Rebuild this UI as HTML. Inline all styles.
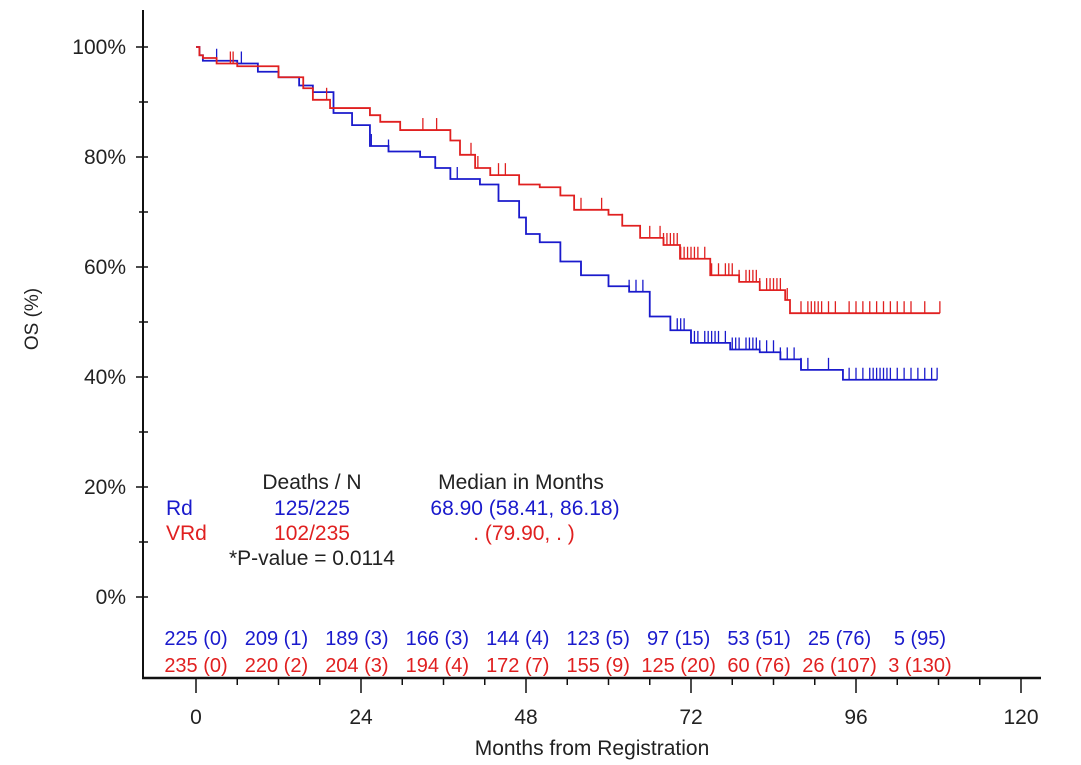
<!DOCTYPE html>
<html><head><meta charset="utf-8"><style>
body{margin:0;background:#fff;}
svg{display:block;font-family:"Liberation Sans",Arial,sans-serif;}
</style></head><body>
<svg id="chart" width="1081" height="765" viewBox="0 0 1081 765" xmlns="http://www.w3.org/2000/svg">
<g id="axes"></g>
<g id="curves"></g>
<text transform="translate(38,319) rotate(-90)" text-anchor="middle" font-size="19" fill="#222">OS (%)</text>
<text x="592" y="755" text-anchor="middle" font-size="21" fill="#222">Months from Registration</text>
<g font-size="21">
<text x="312" y="489" text-anchor="middle" fill="#222">Deaths / N</text>
<text x="521" y="489" text-anchor="middle" fill="#222">Median in Months</text>
<text x="166" y="515" fill="#1a1acc">Rd</text>
<text x="312" y="515" text-anchor="middle" fill="#1a1acc">125/225</text>
<text x="525" y="515" text-anchor="middle" fill="#1a1acc">68.90 (58.41, 86.18)</text>
<text x="166" y="540" fill="#e02020">VRd</text>
<text x="312" y="540" text-anchor="middle" fill="#e02020">102/235</text>
<text x="524" y="540" text-anchor="middle" fill="#e02020">.  (79.90,  .  )</text>
<text x="229" y="565" fill="#222">*P-value = 0.0114</text>
</g>
<g id="risk" font-size="20"></g>
</svg>
<script>
const xTicks=[0,24,48,72,96,120];
const yTicks=[0,20,40,60,80,100];
const rdSteps=[[0,100],[0.5,98.5],[1,97.5],[6,97],[9,95.5],[12,94.5],[15,93],[17,91.8],[20,88],[22.7,85.8],[25.3,82],[28,81],[32.6,80],[34.8,78],[37,76],[41.3,75],[44,72],[47,69],[48,66],[50,64.5],[53,61],[56,58.5],[60,56.5],[63,55.5],[66,51],[69,48.5],[72,46.2],[77.7,45],[82,44.5],[85,43.2],[88,41.3],[94.1,39.5]];
const rdEnd=107.8;
const vrdSteps=[[0,100],[0.5,98.5],[1,98],[3,97],[6,96.5],[12,94.5],[15.6,92.5],[17,90.4],[19.5,88.9],[25.3,87.6],[26.8,86.4],[29.7,84.9],[37,83],[38.4,80.4],[40.6,78],[42.8,76.7],[47,75],[50,74.5],[53,73],[55,70.4],[60,69.5],[62,67.5],[64.6,65.3],[68,64],[70.4,61.5],[74.8,58.5],[79,57.3],[82,55.8],[85.7,54],[86.4,51.6]];
const vrdEnd=108.2;
const rdCensor=[3,6.6,25.5,28,38,56,63,64,65,66,70,70.5,71,72,72.5,73,74,74.5,75,75.5,76,77,78,78.5,79,80,80.5,81,81.5,82,83,84,85,86,87,88,89,92,95,96,97,98,98.5,99,99.5,100,100.5,101,102,103,104,105,106,107,107.8];
const vrdCensor=[5,5.4,19,33,35,40,41,44,45,56,59,62,66,67.5,68,68.5,69,69.5,70,70.5,71,71.5,72,72.5,73,74,75,76,77,77.5,78,79,80,80.5,81,81.5,82,83,83.5,84,84.5,85,86,88,89,89.5,90,90.5,91,92,93,95,96,97,98,99,100,101,102,103,104,106,108.2];
const riskCols=[0,12,24,36,48,60,72,84,96,108];
const rdRisk=["225 (0)","209 (1)","189 (3)","166 (3)","144 (4)","123 (5)","97 (15)","53 (51)","25 (76)","5 (95)"];
const vrdRisk=["235 (0)","220 (2)","204 (3)","194 (4)","172 (7)","155 (9)","125 (20)","60 (76)","26 (107)","3 (130)"];
const NS="http://www.w3.org/2000/svg";
const X=m=>196+m*6.875, Y=p=>597-p*5.5;
function mk(tag,attrs,parent){const e=document.createElementNS(NS,tag);for(const k in attrs)e.setAttribute(k,attrs[k]);parent.appendChild(e);return e;}
const ax=document.getElementById('axes');
let e=mk('line',{x1:143,y1:10,x2:143,y2:679,stroke:'#111','stroke-width':2},ax);


e=mk('line',{x1:142,y1:678,x2:1041,y2:678,stroke:'#111','stroke-width':2.5},ax);


for(let p=0;p<=100;p+=10){
  const major=p%20===0;
  e=mk('line',{x1:major?136:139,y1:Y(p),x2:148,y2:Y(p),stroke:'#111','stroke-width':1.5},ax);
  
  
}
yTicks.forEach(p=>{
  e=mk('text',{x:126,y:Y(p)+7,'text-anchor':'end','font-size':21,fill:'#222'},ax);e.textContent=p+'%';
  
  
});
for(let m=0;m<=114;m+=6){
  const major=m%24===0;
  e=mk('line',{x1:X(m),y1:678,x2:X(m),y2:major?693:685,stroke:'#111','stroke-width':1.5},ax);
  
  
}
e=mk('line',{x1:X(120),y1:678,x2:X(120),y2:693,stroke:'#111','stroke-width':1.5},ax);


xTicks.forEach(m=>{
  e=mk('text',{x:X(m),y:724,'text-anchor':'middle','font-size':21,fill:'#222'},ax);e.textContent=m;
  
  
});
const cv=document.getElementById('curves');
function survAt(steps,m){let s=steps[0][1];for(const st of steps){if(st[0]<=m)s=st[1];}return s;}
function drawCurve(steps,end,cens,color,name){
  let d='M'+X(steps[0][0])+','+Y(steps[0][1]);
  for(let i=1;i<steps.length;i++){d+=' H'+X(steps[i][0])+' V'+Y(steps[i][1]);}
  d+=' H'+X(end);
  let p=mk('path',{d:d,fill:'none',stroke:color,'stroke-width':1.8},cv);
  
  
  cens.forEach(m=>{
    const y=Y(survAt(steps,m));
    let t=mk('line',{x1:X(m),y1:y,x2:X(m),y2:y-12,stroke:color,'stroke-width':1.3},cv);
    
    
  });
}
drawCurve(rdSteps,rdEnd,rdCensor,'#1a1acc','rd');
drawCurve(vrdSteps,vrdEnd,vrdCensor,'#e02020','vrd');
const rk=document.getElementById('risk');
riskCols.forEach((m,i)=>{
  const cx=196+(X(m)-196)*0.975;
  let t=mk('text',{x:cx,y:645,'text-anchor':'middle',fill:'#1a1acc'},rk);t.textContent=rdRisk[i];
  
  
  t=mk('text',{x:cx,y:672,'text-anchor':'middle',fill:'#e02020'},rk);t.textContent=vrdRisk[i];
  
  
});
</script>
</body></html>
